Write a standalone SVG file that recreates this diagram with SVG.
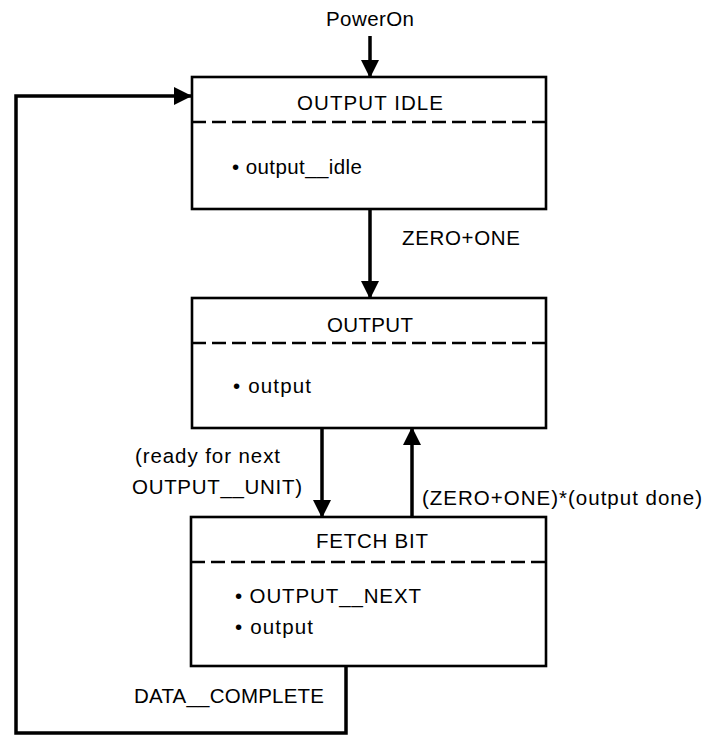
<svg xmlns="http://www.w3.org/2000/svg" width="707" height="735" viewBox="0 0 707 735">
  <defs>
    <marker id="arr" markerUnits="userSpaceOnUse" markerWidth="18" markerHeight="18" viewBox="0 0 18 18" refX="17" refY="9" orient="auto">
      <path d="M0,0 L18,9 L0,18 Z" fill="#000"/>
    </marker>
    <style>
      text { font-family: "Liberation Sans", Arial, sans-serif; font-size: 20.5px; fill: #000; }
      .box { fill: #fff; stroke: #000; stroke-width: 2.6; }
      .dash { stroke: #000; stroke-width: 2.4; stroke-dasharray: 14 6; fill: none; }
      .conn { stroke: #000; stroke-width: 3.5; fill: none; }
      .title { text-anchor: middle; }
    </style>
  </defs>
  <rect width="707" height="735" fill="#fff"/>

  <g id="connectors">
    <line class="conn" x1="370" y1="36" x2="370" y2="77" marker-end="url(#arr)"/>
    <line class="conn" x1="370" y1="209" x2="370" y2="298" marker-end="url(#arr)"/>
    <line class="conn" x1="322" y1="428" x2="322" y2="517" marker-end="url(#arr)"/>
    <line class="conn" x1="412" y1="517" x2="412" y2="428" marker-end="url(#arr)"/>
    <polyline class="conn" points="346,666 346,733 16,733 16,96 191,96" marker-end="url(#arr)"/>
  </g>

  <g id="labels">
    <text x="370" y="26" class="title" textLength="88" lengthAdjust="spacing">PowerOn</text>
    <text x="402" y="245" textLength="118" lengthAdjust="spacing">ZERO+ONE</text>
    <text x="135" y="463" textLength="145" lengthAdjust="spacing">(ready for next</text>
    <text x="132" y="494" textLength="170" lengthAdjust="spacing">OUTPUT__UNIT)</text>
    <text x="422" y="505" textLength="280" lengthAdjust="spacing">(ZERO+ONE)*(output done)</text>
    <text x="134" y="703" textLength="190" lengthAdjust="spacing">DATA__COMPLETE</text>
  </g>

  <g id="output-idle">
    <rect class="box" x="192" y="77" width="354" height="132"/>
    <line class="dash" x1="192" y1="122" x2="546" y2="122"/>
    <text x="370" y="110" class="title" textLength="146" lengthAdjust="spacing">OUTPUT IDLE</text>
    <text x="232" y="174" textLength="130" lengthAdjust="spacing">• output__idle</text>
  </g>

  <g id="output">
    <rect class="box" x="192" y="298" width="354" height="130"/>
    <line class="dash" x1="192" y1="343" x2="546" y2="343"/>
    <text x="370" y="332" class="title" textLength="86" lengthAdjust="spacing">OUTPUT</text>
    <text x="233" y="393" textLength="78" lengthAdjust="spacing">• output</text>
  </g>

  <g id="fetch-bit">
    <rect class="box" x="191" y="517" width="355" height="149"/>
    <line class="dash" x1="191" y1="562" x2="546" y2="562"/>
    <text x="372" y="548" class="title" textLength="112" lengthAdjust="spacing">FETCH BIT</text>
    <text x="235" y="603" textLength="186" lengthAdjust="spacing">• OUTPUT__NEXT</text>
    <text x="235" y="634" textLength="78" lengthAdjust="spacing">• output</text>
  </g>
</svg>
